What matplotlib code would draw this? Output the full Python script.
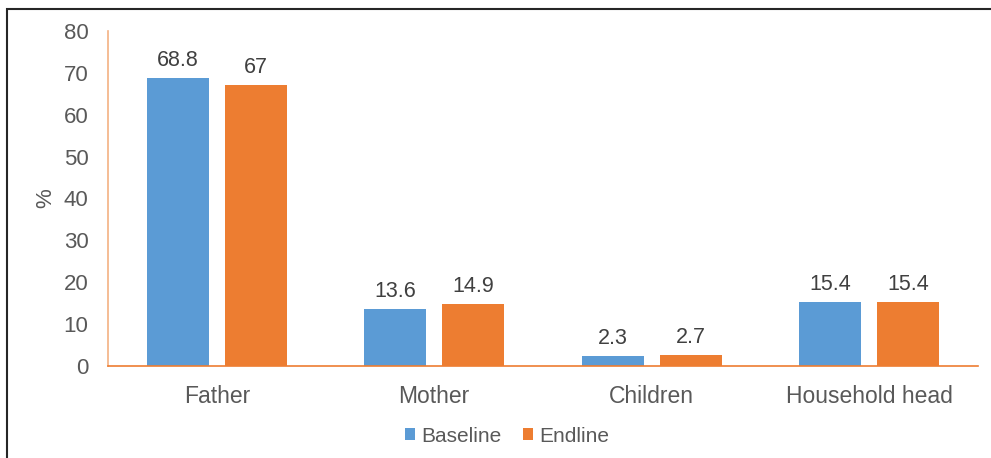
import numpy as np
import matplotlib.pyplot as plt
from matplotlib.patches import Rectangle

categories = ['Father', 'Mother', 'Children', 'Household head']
baseline = [68.8, 13.6, 2.3, 15.4]
endline = [67, 14.9, 2.7, 15.4]
yticks = [0, 10, 20, 30, 40, 50, 60, 70, 80]

blue = '#5B9BD5'
orange = '#ED7D31'
txt = '#595959'

plt.rcParams['font.family'] = ['Liberation Sans', 'DejaVu Sans']

fig = plt.figure(figsize=(9.91, 4.58), dpi=100)
ax = fig.add_axes([108 / 991, 1 - 366 / 458, 870 / 991, 335 / 458])

x = np.arange(len(categories))
w = 0.285
off = 0.18
b1 = ax.bar(x - off, baseline, w, color=blue, label='Baseline')
b2 = ax.bar(x + off, endline, w, color=orange, label='Endline')

for bars, vals in ((b1, baseline), (b2, endline)):
    for r, v in zip(bars, vals):
        ax.annotate(f'{v:g}', (r.get_x() + r.get_width() / 2, v),
                    xytext=(0, 5), textcoords='offset points',
                    ha='center', va='bottom', fontsize=15.5, color='#404040')

ax.set_xlim(-0.5, len(categories) - 0.5)
ax.set_ylim(0, 80)
ax.set_yticks(yticks)
ax.set_xticks(x)
ax.set_xticklabels(categories)
ax.tick_params(axis='y', length=0, labelsize=16, labelcolor=txt, pad=14)
ax.tick_params(axis='x', length=0, labelsize=16.5, labelcolor=txt, pad=14)
ax.set_ylabel('%', fontsize=16, color=txt, labelpad=5)

for s in ('top', 'right'):
    ax.spines[s].set_visible(False)
ax.spines['left'].set_color('#F4B183')
ax.spines['bottom'].set_color(orange)
ax.spines['left'].set_linewidth(1.2)
ax.spines['bottom'].set_linewidth(1.2)

fig.legend(*ax.get_legend_handles_labels(), loc='center',
           bbox_to_anchor=(507 / 991, 1 - 436 / 458), ncol=2, frameon=False,
           fontsize=15, labelcolor=txt, handlelength=0.5, handleheight=0.5,
           handletextpad=0.3, columnspacing=1.0)

# outer frame
fig.patches.append(Rectangle((7 / 991, -0.1), 1.1, 1 - 9 / 458 + 0.1,
                             transform=fig.transFigure, fill=False,
                             edgecolor='#262626', linewidth=1.5))

fig.savefig('out.png', dpi=100)
